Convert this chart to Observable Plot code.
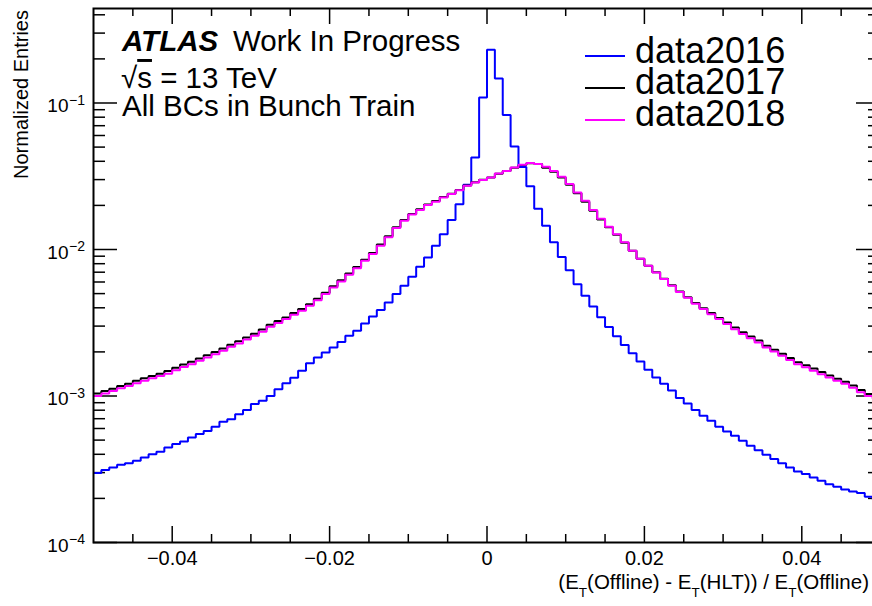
<!DOCTYPE html>
<html>
<head>
<meta charset="utf-8">
<script src="https://cdn.jsdelivr.net/npm/d3@7"></script>
<script src="https://cdn.jsdelivr.net/npm/@observablehq/plot@0.6"></script>
<style>
  html, body { margin: 0; padding: 0; background: #fff; }
  #chart { width: 872px; height: 606px; overflow: hidden; position: relative; }
</style>
</head>
<body>
<div id="chart"></div>
<script>
// Histogram binning: 100 bins of width 0.001 starting at -0.05
const binLow = -0.05;
const binWidth = 0.001;

// Normalized entries per bin
const data2016 = [
  2.98e-4, 3.12e-4, 3.25e-4, 3.39e-4, 3.48e-4, 3.61e-4, 3.80e-4, 4.01e-4, 4.16e-4, 4.45e-4,
  4.70e-4, 4.89e-4, 5.21e-4, 5.50e-4, 5.78e-4, 6.16e-4, 6.67e-4, 6.95e-4, 7.52e-4, 8.01e-4,
  8.81e-4, 9.27e-4, 1.00e-3, 1.11e-3, 1.22e-3, 1.33e-3, 1.49e-3, 1.67e-3, 1.83e-3, 1.98e-3,
  2.14e-3, 2.34e-3, 2.58e-3, 2.79e-3, 3.13e-3, 3.49e-3, 3.86e-3, 4.35e-3, 4.96e-3, 5.65e-3,
  6.52e-3, 7.62e-3, 8.81e-3, 1.06e-2, 1.27e-2, 1.59e-2, 2.04e-2, 2.77e-2, 4.25e-2, 0.109,
  0.231, 0.147, 8.29e-2, 5.04e-2, 3.65e-2, 2.70e-2, 1.90e-2, 1.45e-2, 1.12e-2, 8.90e-3,
  7.22e-3, 5.80e-3, 4.83e-3, 4.08e-3, 3.45e-3, 2.96e-3, 2.56e-3, 2.23e-3, 1.96e-3, 1.72e-3,
  1.51e-3, 1.34e-3, 1.21e-3, 1.09e-3, 9.70e-4, 8.89e-4, 8.01e-4, 7.33e-4, 6.77e-4, 6.16e-4,
  5.72e-4, 5.35e-4, 4.94e-4, 4.57e-4, 4.27e-4, 3.97e-4, 3.71e-4, 3.48e-4, 3.25e-4, 3.05e-4,
  2.93e-4, 2.78e-4, 2.64e-4, 2.50e-4, 2.40e-4, 2.30e-4, 2.23e-4, 2.18e-4, 2.05e-4, 1.98e-4
];

const data2017 = [
  1.04e-3, 1.08e-3, 1.12e-3, 1.17e-3, 1.21e-3, 1.27e-3, 1.32e-3, 1.37e-3, 1.42e-3, 1.48e-3,
  1.56e-3, 1.64e-3, 1.71e-3, 1.80e-3, 1.90e-3, 2.00e-3, 2.11e-3, 2.24e-3, 2.36e-3, 2.51e-3,
  2.66e-3, 2.84e-3, 3.06e-3, 3.25e-3, 3.44e-3, 3.68e-3, 3.92e-3, 4.23e-3, 4.62e-3, 5.07e-3,
  5.62e-3, 6.17e-3, 6.85e-3, 7.60e-3, 8.52e-3, 9.48e-3, 1.08e-2, 1.23e-2, 1.42e-2, 1.59e-2,
  1.75e-2, 1.88e-2, 2.03e-2, 2.14e-2, 2.28e-2, 2.40e-2, 2.55e-2, 2.73e-2, 2.88e-2, 2.99e-2,
  3.10e-2, 3.29e-2, 3.44e-2, 3.62e-2, 3.78e-2, 3.88e-2, 3.84e-2, 3.62e-2, 3.40e-2, 3.10e-2,
  2.77e-2, 2.42e-2, 2.12e-2, 1.84e-2, 1.60e-2, 1.42e-2, 1.26e-2, 1.11e-2, 9.80e-3, 8.65e-3,
  7.76e-3, 7.00e-3, 6.32e-3, 5.70e-3, 5.16e-3, 4.72e-3, 4.31e-3, 3.97e-3, 3.68e-3, 3.41e-3,
  3.17e-3, 2.93e-3, 2.72e-3, 2.55e-3, 2.39e-3, 2.20e-3, 2.07e-3, 1.94e-3, 1.82e-3, 1.70e-3,
  1.62e-3, 1.54e-3, 1.46e-3, 1.38e-3, 1.31e-3, 1.25e-3, 1.18e-3, 1.10e-3, 1.03e-3, 0.99e-3
];

const data2018 = [
  1.00e-3, 1.04e-3, 1.08e-3, 1.13e-3, 1.17e-3, 1.22e-3, 1.27e-3, 1.32e-3, 1.37e-3, 1.42e-3,
  1.50e-3, 1.58e-3, 1.65e-3, 1.74e-3, 1.83e-3, 1.93e-3, 2.04e-3, 2.17e-3, 2.28e-3, 2.43e-3,
  2.58e-3, 2.75e-3, 2.97e-3, 3.15e-3, 3.35e-3, 3.58e-3, 3.82e-3, 4.13e-3, 4.51e-3, 4.96e-3,
  5.50e-3, 6.05e-3, 6.72e-3, 7.46e-3, 8.37e-3, 9.31e-3, 1.06e-2, 1.21e-2, 1.40e-2, 1.57e-2,
  1.73e-2, 1.86e-2, 2.01e-2, 2.12e-2, 2.26e-2, 2.39e-2, 2.54e-2, 2.72e-2, 2.87e-2, 2.98e-2,
  3.10e-2, 3.30e-2, 3.44e-2, 3.63e-2, 3.79e-2, 3.89e-2, 3.83e-2, 3.67e-2, 3.44e-2, 3.14e-2,
  2.80e-2, 2.45e-2, 2.15e-2, 1.86e-2, 1.62e-2, 1.43e-2, 1.27e-2, 1.12e-2, 9.80e-3, 8.64e-3,
  7.74e-3, 6.97e-3, 6.28e-3, 5.65e-3, 5.13e-3, 4.68e-3, 4.26e-3, 3.92e-3, 3.62e-3, 3.35e-3,
  3.10e-3, 2.86e-3, 2.65e-3, 2.48e-3, 2.32e-3, 2.14e-3, 2.01e-3, 1.88e-3, 1.76e-3, 1.65e-3,
  1.57e-3, 1.49e-3, 1.41e-3, 1.34e-3, 1.27e-3, 1.21e-3, 1.14e-3, 1.06e-3, 1.00e-3, 0.96e-3
];

const seriesNames = ["data2016", "data2017", "data2018"];
const seriesColors = ["#0000ff", "#000000", "#ff00ff"];

// Axis ticks and labels
const xMajorTicks = [-0.04, -0.02, 0, 0.02, 0.04];
const xTickLabels = ["\u22120.04", "\u22120.02", "0", "0.02", "0.04"];
const xMinorTicks = [-0.045, -0.035, -0.03, -0.025, -0.015, -0.01, -0.005,
                     0.005, 0.01, 0.015, 0.025, 0.03, 0.035, 0.045];
const yMajorTicks = [1e-4, 1e-3, 1e-2, 1e-1];
const yTickExponents = ["\u22124", "\u22123", "\u22122", "\u22121"];
const yMinorTicks = [
  2e-4, 3e-4, 4e-4, 5e-4, 6e-4, 7e-4, 8e-4, 9e-4,
  2e-3, 3e-3, 4e-3, 5e-3, 6e-3, 7e-3, 8e-3, 9e-3,
  2e-2, 3e-2, 4e-2, 5e-2, 6e-2, 7e-2, 8e-2, 9e-2,
  0.2, 0.3, 0.4
];

// Turn bin contents into step points (left edges plus the final right edge)
function histogramSteps(values) {
  const pts = values.map((v, i) => ({x: binLow + i * binWidth, y: v}));
  pts.push({x: binLow + values.length * binWidth, y: values[values.length - 1]});
  return pts;
}

const font = "'Liberation Sans', Arial, Helvetica, sans-serif";
const W = 881, H = 606, mL = 93, mR = 1, mT = 8, mB = 64;
const frameW = W - mL - mR;
const frameH = H - mT - mB;
const majX = 16, minX = 8, majY = 24, minY = 12;

const histStyle = {x: "x", y: "y", curve: "step-after", strokeWidth: 2,
                   strokeLinejoin: "miter", strokeLinecap: "butt"};

const plot = Plot.plot({
  width: W,
  height: H,
  marginLeft: mL,
  marginRight: mR,
  marginTop: mT,
  marginBottom: mB,
  style: {fontFamily: font, background: "white", maxWidth: "none", overflow: "visible"},
  x: {domain: [-0.05, 0.05], axis: null},
  y: {type: "log", domain: [1e-4, 0.4416], axis: null},
  marks: [
    // inward ticks on all four sides
    Plot.ruleX(xMajorTicks, {insetTop: frameH - majX, strokeWidth: 1.5}),
    Plot.ruleX(xMinorTicks, {insetTop: frameH - minX, strokeWidth: 1.5}),
    Plot.ruleX(xMajorTicks, {insetBottom: frameH - majX, strokeWidth: 1.5}),
    Plot.ruleX(xMinorTicks, {insetBottom: frameH - minX, strokeWidth: 1.5}),
    Plot.ruleY(yMajorTicks, {insetRight: frameW - majY, strokeWidth: 1.5}),
    Plot.ruleY(yMinorTicks, {insetRight: frameW - minY, strokeWidth: 1.5}),
    Plot.ruleY(yMajorTicks, {insetLeft: frameW - majY, strokeWidth: 1.5}),
    Plot.ruleY(yMinorTicks, {insetLeft: frameW - minY, strokeWidth: 1.5}),

    // histograms
    Plot.line(histogramSteps(data2016), {...histStyle, stroke: seriesColors[0]}),
    Plot.line(histogramSteps(data2017), {...histStyle, stroke: seriesColors[1]}),
    Plot.line(histogramSteps(data2018), {...histStyle, stroke: seriesColors[2]}),

    Plot.frame({strokeWidth: 2}),

    // tick labels
    Plot.text(xMajorTicks, {x: d => d, frameAnchor: "bottom", lineAnchor: "bottom", dy: 22,
      text: (d, i) => xTickLabels[i], fontSize: 20, fill: "black"}),
    Plot.text(yMajorTicks, {y: d => d, frameAnchor: "left", textAnchor: "end", lineAnchor: "bottom",
      dx: -25, dy: 9.5, text: () => "10", fontSize: 19, fill: "black"}),
    Plot.text(yMajorTicks, {y: d => d, frameAnchor: "left", textAnchor: "start", lineAnchor: "bottom",
      dx: -24.5, dy: 1.7, text: (d, i) => yTickExponents[i], fontSize: 14, fill: "black"})
  ]
});

document.getElementById("chart").appendChild(plot);

// Axis titles, labels and legend
const svg = d3.select(plot);
const ann = svg.append("g")
  .attr("font-family", font)
  .attr("fill", "black")
  .attr("text-anchor", "start");

// x-axis title with subscript T
const titleSize = 20.5;
const xTitle = ann.append("text").attr("x", 869).attr("y", 589)
  .attr("text-anchor", "end").attr("font-size", titleSize);
const xTitleParts = ["(E", "T", "(Offline) - E", "T", "(HLT)) / E", "T", "(Offline)"];
xTitleParts.forEach((t, i) => {
  const sub = i % 2 === 1;
  xTitle.append("tspan")
    .attr("dy", sub ? 8 : (i === 0 ? 0 : -8))
    .attr("font-size", sub ? 13.5 : titleSize)
    .text(t);
});

// y-axis title
ann.append("text")
  .attr("transform", "translate(27.5,10) rotate(-90)")
  .attr("text-anchor", "end")
  .attr("font-size", 20)
  .text("Normalized Entries");

// experiment label
const labelSize = 29.5;
ann.append("text").attr("x", 122).attr("y", 50.5).attr("font-size", labelSize)
  .attr("font-weight", "bold").attr("font-style", "italic").text("ATLAS");
ann.append("text").attr("x", 233).attr("y", 50.5).attr("font-size", labelSize).text("Work In Progress");
const sqrtLine = ann.append("text").attr("x", 121).attr("y", 88).attr("font-size", labelSize);
sqrtLine.append("tspan").text("\u221A");
sqrtLine.append("tspan").attr("text-decoration", "overline").text("s");
sqrtLine.append("tspan").text(" = 13 TeV");
ann.append("text").attr("x", 122).attr("y", 116).attr("font-size", labelSize).text("All BCs in Bunch Train");

// legend
seriesNames.forEach((name, i) => {
  const yLine = 56 + i * 32;
  ann.append("line")
    .attr("x1", 585).attr("x2", 625).attr("y1", yLine).attr("y2", yLine)
    .attr("stroke", seriesColors[i]).attr("stroke-width", 2);
  ann.append("text").attr("x", 635).attr("y", 62.5 + i * 31.5)
    .attr("font-size", 36).text(name);
});
</script>
</body>
</html>
